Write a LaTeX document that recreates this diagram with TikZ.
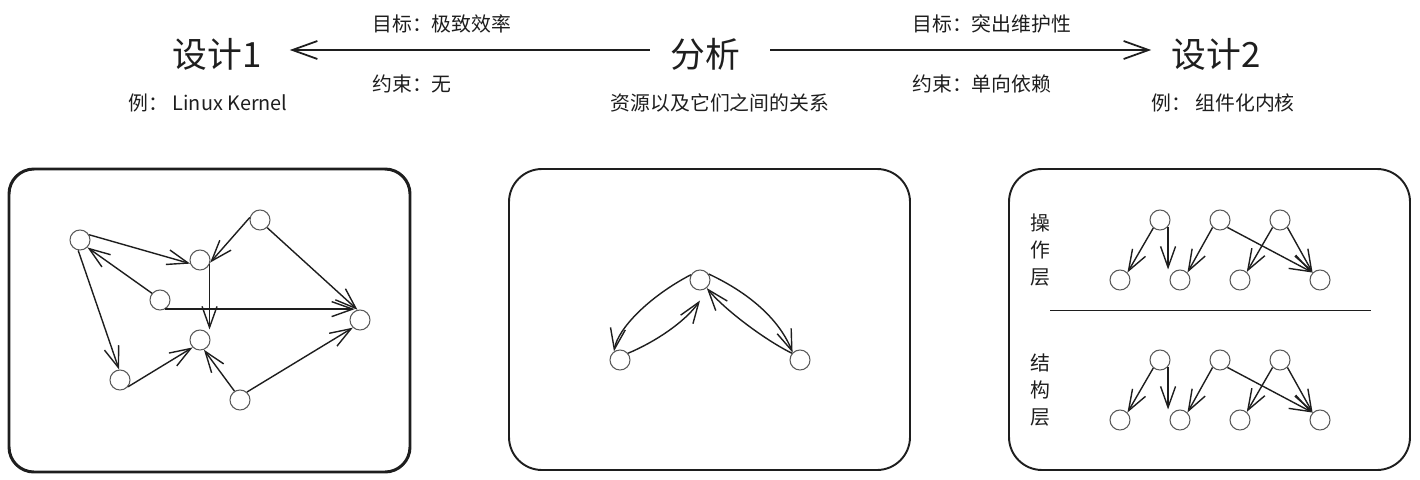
\documentclass[tikz,border=0pt]{standalone}
\usepackage{fontspec}
\setmainfont{Noto Sans CJK SC}
\usetikzlibrary{arrows.meta}
\definecolor{ink}{HTML}{1E1E1E}
\definecolor{ring}{HTML}{5A5A5A}

\begin{document}
\begin{tikzpicture}[x=0.02cm,y=-0.02cm,
    title/.style={inner sep=0pt,text=ink,font=\fontsize{19.8pt}{24pt}\selectfont},
    note/.style={inner sep=0pt,text=ink,font=\fontsize{11.3pt}{15.3pt}\selectfont},
    res/.style={circle,draw=ring,line width=0.6pt,minimum size=0.4cm,inner sep=0pt},
    dep/.style={draw=ink,line width=0.8pt,-{Straight Barb[length=0.42cm,width=0.3cm]}},
    flow/.style={draw=ink,line width=1pt,-{Straight Barb[length=0.5cm,width=0.36cm]}},
    panel/.style={draw=ink,line width=1.1pt,rounded corners=0.66cm}]
  \useasboundingbox (0,0) rectangle (1420,480);
  % top row
  \node[title] (d1) at (217,54) {设计1};
  \node[title] (an) at (705,54) {分析};
  \node[title] (d2) at (1216,54) {设计2};
  \node[note] (ex1) at (208,103) {例： Linux Kernel};
  \node[note] (rel) at (720,103) {资源以及它们之间的关系};
  \node[note] (ex2) at (1223,103) {例： 组件化内核};
  \node[note,anchor=west] (g1) at (372,24) {目标：极致效率};
  \node[note,anchor=west] (c1) at (372,84) {约束：无};
  \node[note,anchor=west] (g2) at (912,24) {目标：突出维护性};
  \node[note,anchor=west] (c2) at (912,84) {约束：单向依赖};
  \draw[flow] ([xshift=-0.4cm,yshift=0.08cm]an.west) -- ([xshift=0.56cm,yshift=0.08cm]d1.east);
  \draw[flow] ([xshift=0.6cm,yshift=0.08cm]an.east) -- ([xshift=-0.4cm,yshift=0.08cm]d2.west);

  % panel 1: tangled
  \draw[panel,line width=1.7pt,rounded corners=0.5cm] (9,169) rectangle (410,472);
  \node[res] (a) at (80,240) {};
  \node[res] (b) at (200,260) {};
  \node[res] (c) at (260,220) {};
  \node[res] (d) at (160,300) {};
  \node[res] (e) at (360,320) {};
  \node[res] (f) at (200,340) {};
  \node[res] (g) at (120,380) {};
  \node[res] (h) at (240,400) {};
  \draw[dep] (a.30) -- (b.200);
  \draw[dep] (d.140) -- (a.-45);
  \draw[dep] (c.166) -- (b.-14);
  \draw[dep] (c.-47) -- (e.104);
  \draw[dep] (b.-25) -- (b.-25 |- f.north);
  \draw[dep] (d.-60) -- (d.-60 -| e.120);
  \draw[dep] (a.-100) -- (g.95);
  \draw[dep] (g.-40) -- (f.225);
  \draw[dep] (h.122) -- (f.-68);
  \draw[dep] (h.49) -- (e.227);

  % panel 2: resources
  \draw[panel] (509,169) rectangle (910,470);
  \node[res] (t) at (700,280) {};
  \node[res] (l) at (620,360) {};
  \node[res] (r) at (800,360) {};
  \draw[dep] (t.150) .. controls (650,296) and (618,328) .. (l.125);
  \draw[dep] (l.40) .. controls (655,342) and (685,322) .. ([yshift=-0.2cm]t.south);
  \draw[dep] (t.35) .. controls (760,298) and (783,328) .. (r.135);
  \draw[dep] (r.140) .. controls (765,340) and (725,310) .. (t.-50);

  % panel 3: layers
  \draw[panel] (1009,169) rectangle (1410,470);
  \draw[draw=ink,line width=0.8pt] (1050,310.7) -- (1371,310.7);
  \node[note,align=center] (lop) at (1040,250) {操\\作\\层};
  \node[note,align=center] (lst) at (1040,390) {结\\构\\层};
  \foreach \lay/\dy in {op/0,st/140} {
    \node[res] (\lay u1) at (1160,220+\dy) {};
    \node[res] (\lay u2) at (1220,220+\dy) {};
    \node[res] (\lay u3) at (1280,220+\dy) {};
    \node[res] (\lay d1) at (1120,280+\dy) {};
    \node[res] (\lay d2) at (1180,280+\dy) {};
    \node[res] (\lay d3) at (1240,280+\dy) {};
    \node[res] (\lay d4) at (1320,280+\dy) {};
    \draw[dep] (\lay u1.230) -- (\lay d1.45);
    \draw[dep] (\lay u1.-40) -- (\lay u1.-40 |- \lay d2.north);
    \draw[dep] (\lay u2.225) -- (\lay d2.45);
    \draw[dep] (\lay u2.-45) -- (\lay d4.135);
    \draw[dep] (\lay u3.225) -- (\lay d3.50);
    \draw[dep] (\lay u3.-45) -- (\lay d4.135);
  }
\end{tikzpicture}
\end{document}
